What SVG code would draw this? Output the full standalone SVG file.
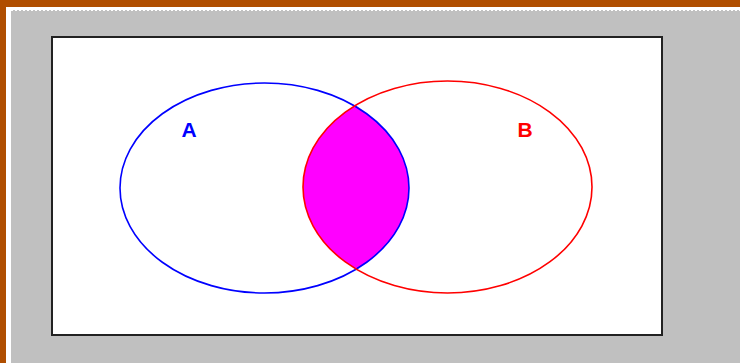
<svg xmlns="http://www.w3.org/2000/svg" width="740" height="363" viewBox="0 0 740 363">
<style>
.lbl{font-family:"Liberation Sans",Arial,sans-serif;font-weight:bold;font-size:21px;text-anchor:middle}
.ell{fill:none;stroke-width:1.6}
</style>
<defs>
<clipPath id="clipA"><ellipse cx="264.5" cy="188" rx="144.5" ry="105"/></clipPath>
</defs>
<rect x="0" y="0" width="740" height="363" fill="#b04e00"/>
<rect x="6" y="7" width="734" height="356" fill="#ffffff"/>
<rect x="11" y="10" width="729" height="353" fill="#c0c0c0"/>
<line x1="11" y1="10.5" x2="740" y2="10.5" stroke="#ffffff" stroke-width="1" stroke-dasharray="2 2"/>
<rect x="52" y="37" width="610" height="298" fill="#ffffff" stroke="#222222" stroke-width="2"/>
<g id="intersection">
<ellipse cx="447.5" cy="187" rx="144.5" ry="106" fill="#ff00ff" clip-path="url(#clipA)"/>
</g>
<g id="A">
<ellipse class="ell" cx="264.5" cy="188" rx="144.5" ry="105" stroke="#0000ff"/>
<text class="lbl" x="189" y="137" fill="#0000ff">A</text>
</g>
<g id="B">
<ellipse class="ell" cx="447.5" cy="187" rx="144.5" ry="106" stroke="#ff0000"/>
<text class="lbl" x="525" y="137" fill="#ff0000">B</text>
</g>
<g id="connectors"/>
</svg>
